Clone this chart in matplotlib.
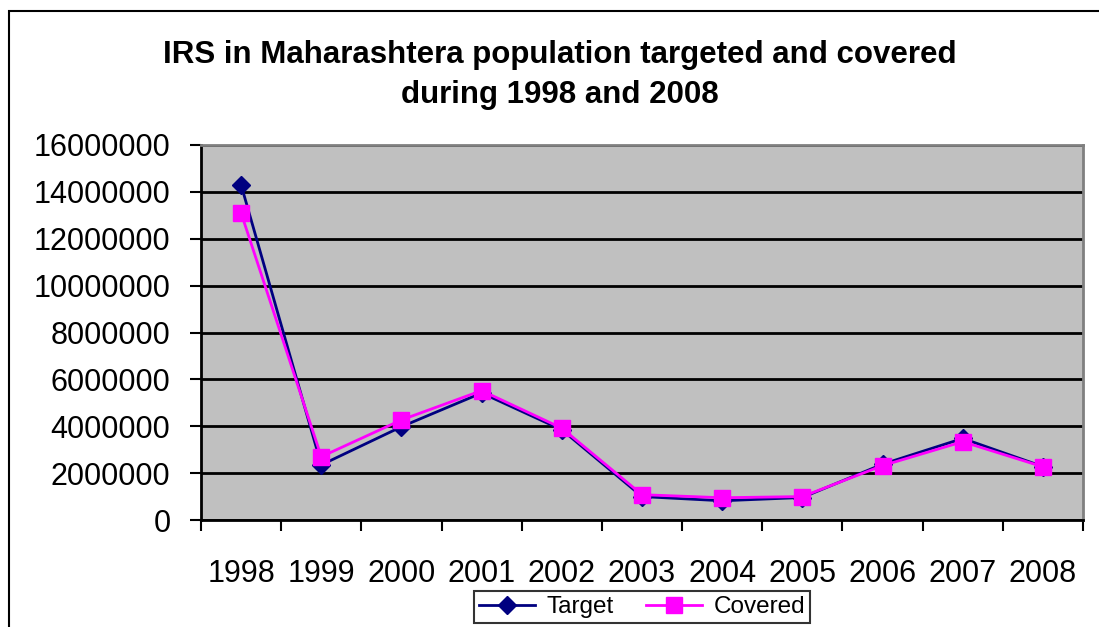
import matplotlib
matplotlib.use("Agg")
from matplotlib import pyplot as plt
from matplotlib.patches import Rectangle
from matplotlib.ticker import FixedLocator, NullFormatter
import numpy as np

plt.rcParams['font.family'] = ['Liberation Sans', 'DejaVu Sans']

years = ['1998', '1999', '2000', '2001', '2002', '2003', '2004', '2005', '2006', '2007', '2008']
target = [14300000, 2350000, 3980000, 5420000, 3850000, 1000000, 820000, 960000, 2380000, 3480000, 2280000]
covered = [13100000, 2700000, 4270000, 5520000, 3920000, 1080000, 950000, 1000000, 2320000, 3340000, 2270000]
yticks = [0, 2000000, 4000000, 6000000, 8000000, 10000000, 12000000, 14000000, 16000000]

W, H = 1099, 627
fig = plt.figure(figsize=(W / 100, H / 100), dpi=100)
fig.patch.set_facecolor('white')

# outer chart frame (right and bottom edges run off the picture)
fig.patches.append(Rectangle((9 / W, -0.1), 1.2, 1 - 11 / H + 0.1, transform=fig.transFigure,
                             fill=False, edgecolor='black', linewidth=1.5, clip_on=False))

ax = fig.add_axes([201 / W, (H - 520) / H, (1083 - 201) / W, (520 - 145) / H])
ax.set_facecolor('#C0C0C0')

x = np.arange(len(years))
ax.plot(x, target, color='#000080', marker='D', markersize=9, linewidth=2, label='Target', zorder=3)
ax.plot(x, covered, color='#FF00FF', marker='s', markersize=11, linewidth=2, label='Covered', zorder=4)

ax.set_xlim(-0.5, len(years) - 0.5)
ax.set_ylim(0, 16000000)
ax.set_yticks(yticks)
ax.set_yticklabels([str(v) for v in yticks], fontsize=22)
ax.yaxis.grid(True, color='black', linewidth=2)
ax.set_axisbelow(True)

ax.set_xticks(x)
ax.set_xticklabels(years, fontsize=22)
ax.tick_params(axis='x', which='major', length=0, pad=28)
ax.xaxis.set_minor_locator(FixedLocator(np.arange(-0.5, len(years), 1.0)))
ax.xaxis.set_minor_formatter(NullFormatter())
ax.tick_params(axis='x', which='minor', length=8, width=1.5, direction='out')
ax.tick_params(axis='y', length=8, width=1.5, direction='out', pad=14)

ax.spines['left'].set_linewidth(2)
ax.spines['bottom'].set_linewidth(2)
ax.spines['top'].set_color('#808080')
ax.spines['right'].set_color('#808080')
ax.spines['top'].set_linewidth(2)
ax.spines['right'].set_linewidth(2)

fig.text(560 / W, 1 - 75 / H, 'IRS in Maharashtera population targeted and covered\nduring 1998 and 2008',
         ha='center', va='center', fontsize=22.5, fontweight='bold', linespacing=1.4)

leg = fig.legend(loc='center', bbox_to_anchor=(642 / W, 1 - 607 / H), ncol=2, fontsize=17.5,
                 frameon=True, fancybox=False, edgecolor='black', handlelength=2.3,
                 columnspacing=1.3, borderpad=0.2, handletextpad=0.5)
leg.get_frame().set_linewidth(1.5)

fig.savefig('out.png', dpi=100)
